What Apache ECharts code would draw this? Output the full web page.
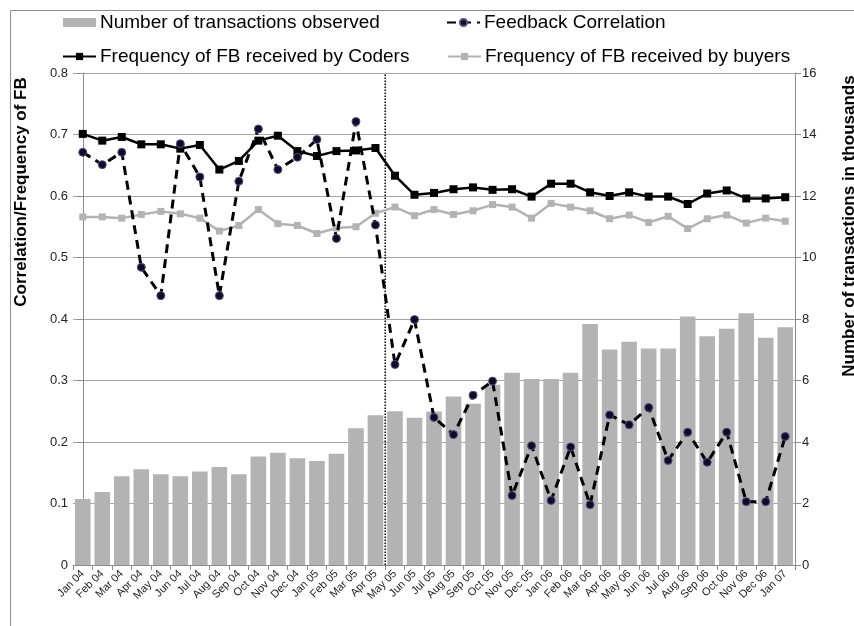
<!DOCTYPE html>
<html>
<head>
<meta charset="utf-8">
<script src="https://cdn.jsdelivr.net/npm/echarts@6/dist/echarts.min.js"></script>
<style>html,body{margin:0;padding:0;background:#fff;}#c{width:854px;height:626px;}</style>
</head>
<body>
<div id="c"></div>
<script>
const categories = ['Jan 04','Feb 04','Mar 04','Apr 04','May 04','Jun 04','Jul 04','Aug 04','Sep 04','Oct 04','Nov 04','Dec 04',
  'Jan 05','Feb 05','Mar 05','Apr 05','May 05','Jun 05','Jul 05','Aug 05','Sep 05','Oct 05','Nov 05','Dec 05',
  'Jan 06','Feb 06','Mar 06','Apr 06','May 06','Jun 06','Jul 06','Aug 06','Sep 06','Oct 06','Nov 06','Dec 06','Jan 07'];

// thousands of transactions (right axis)
const transactions = [2.15,2.37,2.89,3.11,2.95,2.89,3.04,3.19,2.95,3.53,3.65,3.47,
  3.38,3.62,4.45,4.87,5.00,4.79,4.99,5.48,5.24,5.86,6.25,6.05,
  6.05,6.25,7.84,7.01,7.26,7.04,7.04,8.08,7.44,7.68,8.19,7.39,7.73];

const feedbackCorrelation = [0.671,0.651,0.671,0.484,0.438,0.685,0.631,0.438,0.624,0.709,0.643,0.663,
  0.692,0.531,0.721,0.553,0.326,0.399,0.240,0.212,0.276,0.299,0.113,0.194,
  0.105,0.192,0.098,0.244,0.228,0.256,0.170,0.216,0.167,0.216,0.103,0.103,0.209];

const coders = [0.701,0.690,0.696,0.684,0.684,0.677,0.683,0.643,0.657,0.690,0.698,0.673,
  0.665,0.673,0.674,0.678,0.633,0.602,0.605,0.611,0.614,0.610,0.611,0.599,
  0.620,0.620,0.606,0.600,0.606,0.599,0.599,0.587,0.604,0.609,0.596,0.596,0.598];

const buyers = [0.566,0.566,0.564,0.570,0.575,0.571,0.564,0.543,0.552,0.578,0.555,0.552,
  0.539,0.548,0.550,0.572,0.582,0.568,0.578,0.570,0.576,0.586,0.582,0.564,
  0.588,0.582,0.576,0.563,0.569,0.557,0.567,0.547,0.563,0.569,0.556,0.564,0.559];

const leftTicks = {min: 0, max: 0.8, interval: 0.1};
const rightTicks = {min: 0, max: 16, interval: 2};
const dividerAfter = 'Apr 05';

const FONT = '"Liberation Sans", Arial, sans-serif';
const divX = categories.indexOf(dividerAfter) + 0.5;

const chart = echarts.init(document.getElementById('c'), null, {renderer: 'canvas'});

const names = ['Number of transactions observed','Feedback Correlation','Frequency of FB received by Coders','Frequency of FB received by buyers'];
function leg(name, left, top, extra) {
  return Object.assign({
    data: [name], left: left, top: top, padding: 0, itemWidth: 33, itemHeight: 9, itemGap: 0,
    textStyle: {fontFamily: FONT, fontSize: 19, color: '#000', padding: [0,0,0,-1]},
    selectedMode: false
  }, extra || {});
}

chart.setOption({
  animation: false,
  textStyle: {fontFamily: FONT},
  legend: [
    leg(names[0], 63, 13, {icon: 'rect', itemHeight: 9}),
    leg(names[1], 446, 13),
    leg(names[2], 62, 47),
    leg(names[3], 447, 47)
  ],
  grid: {left: 73, right: 59, top: 73, bottom: 61, containLabel: false},
  graphic: [
    {type: 'rect', left: 8, top: 8, shape: {width: 900, height: 700}, style: {fill: 'none', stroke: '#8c8c8c', lineWidth: 1}, silent: true, z: -1},
    {type: 'text', x: 21, y: 192, rotation: Math.PI / 2,
      style: {text: 'Correlation/Frequency of FB', font: 'bold 17px ' + FONT, fill: '#000', align: 'center', verticalAlign: 'middle'}},
    {type: 'text', x: 849, y: 226, rotation: Math.PI / 2,
      style: {text: 'Number of transactions in thousands', font: 'bold 17px ' + FONT, fill: '#000', align: 'center', verticalAlign: 'middle'}}
  ],
  xAxis: [
    {type: 'category', data: categories, boundaryGap: true,
      axisLine: {lineStyle: {color: '#8c8c8c', width: 1}},
      axisTick: {show: true, alignWithLabel: false, length: 5, lineStyle: {color: '#8c8c8c'}},
      axisLabel: {rotate: 45, interval: 0, fontSize: 11, color: '#222', margin: 7, fontFamily: FONT},
      splitLine: {show: false}},
    {type: 'value', min: -0.5, max: categories.length - 0.5, show: false}
  ],
  yAxis: [
    {type: 'value', min: leftTicks.min, max: leftTicks.max, interval: leftTicks.interval,
      axisLine: {show: true, lineStyle: {color: '#8c8c8c'}},
      axisTick: {show: true, length: 6, lineStyle: {color: '#8c8c8c'}},
      axisLabel: {fontSize: 13, color: '#222', margin: 5, fontFamily: FONT,
        formatter: v => (Math.round(v * 10) / 10).toString()},
      splitLine: {show: true, lineStyle: {color: '#a6a6a6', width: 1}}},
    {type: 'value', min: rightTicks.min, max: rightTicks.max, interval: rightTicks.interval, position: 'right',
      axisLine: {show: true, lineStyle: {color: '#8c8c8c'}},
      axisTick: {show: true, length: 6, lineStyle: {color: '#8c8c8c'}},
      axisLabel: {fontSize: 13, color: '#222', margin: 7, fontFamily: FONT},
      splitLine: {show: false}}
  ],
  series: [
    {name: names[0], type: 'bar', xAxisIndex: 0, yAxisIndex: 1, data: transactions,
      barCategoryGap: '20%', itemStyle: {color: '#b3b3b3'}, z: 1},
    {name: 'divider', type: 'line', xAxisIndex: 1, yAxisIndex: 0,
      data: [[divX, leftTicks.min], [divX, leftTicks.max]], symbol: 'none',
      lineStyle: {color: '#000', width: 1.5, type: [1.5, 1.5]}, z: 2, silent: true},
    {name: names[3], type: 'line', xAxisIndex: 0, yAxisIndex: 0, data: buyers,
      symbol: 'rect', symbolSize: 7, lineStyle: {color: '#b3b3b3', width: 2.5},
      itemStyle: {color: '#b3b3b3'}, z: 3},
    {name: names[2], type: 'line', xAxisIndex: 0, yAxisIndex: 0, data: coders,
      symbol: 'rect', symbolSize: 8, lineStyle: {color: '#000', width: 2.5},
      itemStyle: {color: '#000'}, z: 4},
    {name: names[1], type: 'line', xAxisIndex: 0, yAxisIndex: 0, data: feedbackCorrelation,
      symbol: 'circle', symbolSize: 8, lineStyle: {color: '#000', width: 3, type: [9, 6]},
      itemStyle: {color: '#0d0d26', borderColor: '#5a4a8a', borderWidth: 1}, z: 5}
  ]
});
</script>
</body>
</html>
